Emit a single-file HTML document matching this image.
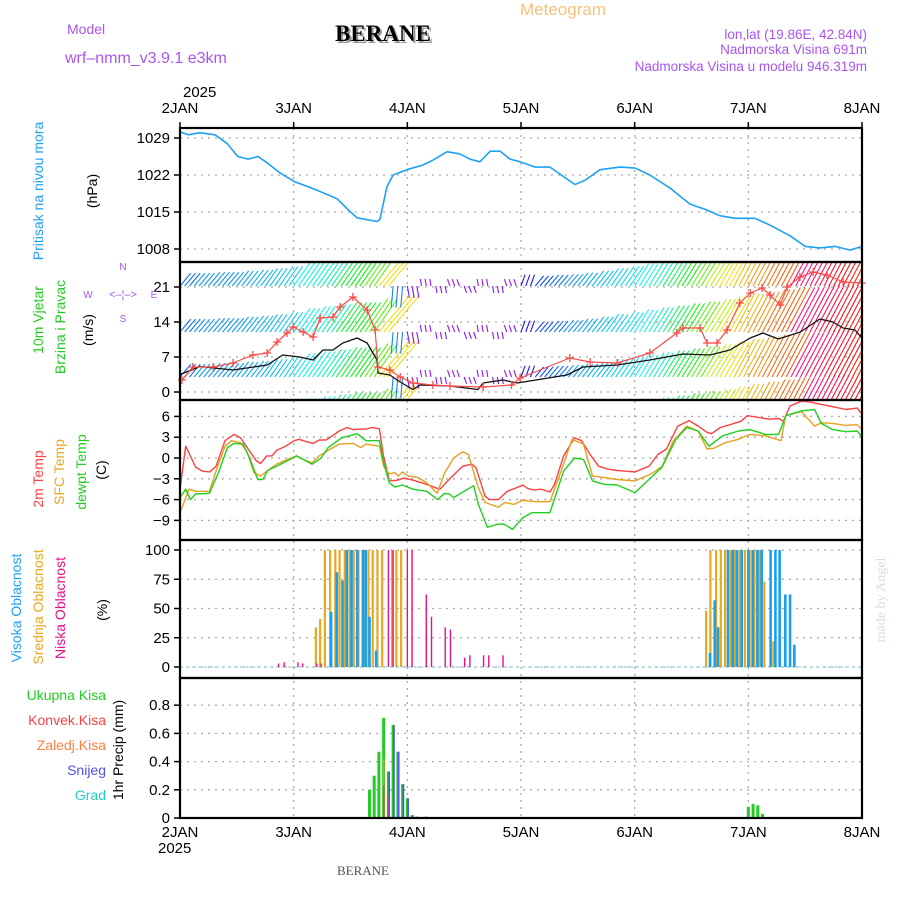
<!DOCTYPE html>
<html><head><meta charset="utf-8"><style>
html,body{margin:0;padding:0;background:#fff;}
svg{display:block;font-family:"Liberation Sans",sans-serif;}
</style></head><body>
<svg id="chart" width="900" height="900" viewBox="0 0 900 900" xmlns="http://www.w3.org/2000/svg">
<defs>
<clipPath id="cp2"><rect x="180" y="262" width="682" height="138"/></clipPath>
</defs>
<g>
<text x="520" y="15" font-size="17" fill="#f5c27a">Meteogram</text>
<text x="67" y="34" font-size="14" fill="#aa55ee">Model</text>
<text x="65" y="63" font-size="16" fill="#aa55ee">wrf–nmm_v3.9.1 e3km</text>
<text x="385" y="43" font-size="23" font-weight="bold" font-family="Liberation Serif,serif" text-anchor="middle" fill="#999">BERANE</text>
<text x="383" y="41" font-size="23" font-weight="bold" font-family="Liberation Serif,serif" text-anchor="middle" fill="#000">BERANE</text>
<text x="867" y="39" font-size="13.5" text-anchor="end" fill="#aa55ee">lon,lat (19.86E, 42.84N)</text>
<text x="867" y="54" font-size="13.5" text-anchor="end" fill="#aa55ee">Nadmorska Visina 691m</text>
<text x="867" y="71" font-size="13.5" text-anchor="end" fill="#aa55ee">Nadmorska Visina u modelu 946.319m</text>
</g>
<g id="grid"></g>
<g id="marks"></g>
<g id="frames"></g>
<g id="labels"></g>
<g font-family="Liberation Sans,sans-serif" font-size="14">
<text x="183" y="97" font-size="15">2025</text>
<text x="158" y="853" font-size="15">2025</text>
<text x="363" y="875" font-size="13" font-family="Liberation Serif,serif" fill="#555" text-anchor="middle">BERANE</text>
<text transform="translate(43,191) rotate(-90)" text-anchor="middle" fill="#1ea0f5">Pritisak na nivou mora</text>
<text transform="translate(97,191) rotate(-90)" text-anchor="middle" fill="#000">(hPa)</text>
<text transform="translate(43,320) rotate(-90)" text-anchor="middle" fill="#22cc22">10m Vjetar</text>
<text transform="translate(65,327) rotate(-90)" text-anchor="middle" fill="#22cc22">Brzina i Pravac</text>
<text transform="translate(93,330) rotate(-90)" text-anchor="middle" fill="#000">(m/s)</text>
<g fill="#aa55ee" font-size="10" text-anchor="middle">
<text x="123" y="270">N</text><text x="123" y="322">S</text><text x="88" y="298">W</text><text x="154" y="298">E</text>
<text x="123" y="298" font-size="11">&lt;–¦–&gt;</text>
</g>
<text transform="translate(43,479) rotate(-90)" text-anchor="middle" fill="#ff4040">2m Temp</text>
<text transform="translate(64,472) rotate(-90)" text-anchor="middle" fill="#e8a820">SFC Temp</text>
<text transform="translate(86,472) rotate(-90)" text-anchor="middle" fill="#22cc22">dewpt Temp</text>
<text transform="translate(106,470) rotate(-90)" text-anchor="middle" fill="#000">(C)</text>
<text transform="translate(21,608) rotate(-90)" text-anchor="middle" fill="#1ea0f5">Visoka Oblacnost</text>
<text transform="translate(43,607) rotate(-90)" text-anchor="middle" fill="#e8a820">Srednja Oblacnost</text>
<text transform="translate(65,608) rotate(-90)" text-anchor="middle" fill="#e8108a">Niska Oblacnost</text>
<text transform="translate(107,610) rotate(-90)" text-anchor="middle" fill="#000">(%)</text>
<g text-anchor="end">
<text x="106" y="700" fill="#22cc22">Ukupna Kisa</text>
<text x="106" y="725" fill="#ff4040">Konvek.Kisa</text>
<text x="106" y="750" fill="#ff8040">Zaledj.Kisa</text>
<text x="106" y="775" fill="#5050f0">Snijeg</text>
<text x="106" y="800" fill="#22cccc">Grad</text>
</g>
<text transform="translate(123,750) rotate(-90)" text-anchor="middle" fill="#000">1hr Precip (mm)</text>
<text transform="translate(885,600) rotate(-90)" text-anchor="middle" fill="#d8e0d8" font-size="14" font-family="Liberation Serif,serif">made by Angel</text>
</g>
</svg>
<script>
// ---- data ----
const dayLabels = ["2JAN","3JAN","4JAN","5JAN","6JAN","7JAN","8JAN"];
const presTicks = [1029,1022,1015,1008];
const windTicks = [21,14,7,0];
const tempTicks = [6,3,0,-3,-6,-9];
const cloudTicks = [100,75,50,25,0];
const precipTicks = [0.8,0.6,0.4,0.2,0];

const presT = [0,1.7,4.2,7.4,9.9,12.2,14.4,16.5,18.4,21.1,24.3,27.9,30,33.2,35.9,37.4,41.6,42.2,43.7,45,47.9,51.3,53.4,56.4,59.1,61.2,63.3,65.5,67.6,69.7,71.8,75,78.1,81.3,83.4,85.5,88.7,92.9,96.1,99.2,103.5,107.7,110.9,114,117.2,121.4,124.6,128.8,132,135.1,138.3,141.5,144];
const presV = [1030.2,1029.6,1030,1029.6,1028,1025.5,1025,1025.5,1024.3,1022.4,1020.7,1019.5,1018.7,1017.5,1015.1,1013.9,1013.2,1013.6,1019.8,1022,1023,1023.9,1024.8,1026.4,1026,1025,1024.5,1026.5,1026.5,1025,1024.5,1023.5,1023.5,1021.5,1020.2,1021,1023,1023.5,1023.3,1022,1019.5,1016.5,1015.5,1014.3,1013.8,1013.8,1012.5,1010.5,1008.5,1008.2,1008.5,1007.8,1008.5];

const windT = [0,3,6,9,12,15,18,21,24,27,30,33,36,39,42,45,48,51,54,57,60,63,66,69,72,75,78,81,84,87,90,93,96,99,102,105,108,111,114,117,120,123,126,129,132,135,138,141];
const windDir = [50,50,50,50,52,52,55,55,55,55,55,55,55,55,50,-95,-80,100,-80,110,-70,100,-80,110,70,50,50,50,52,52,55,55,58,58,58,58,58,58,60,62,62,62,62,62,62,62,62,62];
const windSpd = [7,7,7.5,7.5,8,8.5,9,10,12,13,14,15,15,17,20,9,5,3,3,3,3,3,3,3,5,5.5,6,6.5,7,8,9,10,11,12,13,14,15,16,17,18,19,20,21,21,22,22,22,22];
const windHue = [215,205,205,205,200,198,195,190,180,175,160,130,120,100,55,210,270,275,270,275,270,275,270,275,245,225,215,205,200,195,190,185,180,165,140,120,100,75,55,45,35,25,20,330,340,350,0,5];
const spdT = [0,4.2,11.2,18.4,21.7,25.3,28.1,30.2,32.3,34.4,37.4,39.5,41.6,41.8,44.3,46.5,49.2,50.7,57,62.9,64,68.2,71.2,81.7,85.1,92.3,99.2,106.2,111.9,116.1,120.4,123.1,126.3,131,135.1,137.9,140,142.5,144];
const spdV = [3.5,5.1,4.4,5.4,7.4,7,6.4,8.4,8.4,9.8,10.8,9.8,6.4,3.8,3.4,2,0.5,1.4,1.2,0.5,1.8,2.4,1.8,3.4,5,5.4,6.4,7.6,7.4,8.4,10.8,11.8,10.6,12,14.6,14,12.8,12.4,10.8];
const gustT = [0.4,2.7,7,11.2,15.4,18.4,20.5,22.6,23.9,26,28.1,29.6,32.3,33.8,36.5,39.5,41.2,41.8,44.3,46.5,49.2,53.4,57,64,70,71.8,82.3,86.6,92.3,99.2,104.9,106.2,109.8,111.3,113.4,115.5,118.2,120.4,122.9,124.6,126.7,128.2,130.9,133.7,136.6,140,144];
const gustV = [2.4,5,5,5.8,7.4,7.8,10,11.8,13,12,11,14.8,15,17,19,16.4,12.4,5,4.4,3,1.8,1.4,1.2,1,1.4,2.8,6.8,6,5.8,7.8,11.8,12.8,12.8,9.8,9.8,12.4,17.8,19.8,20.8,19.4,17.4,21,23,24,23.4,22,21.8];

const tempT = [0,1.2,3.3,4.7,6.3,7.6,9.5,11.4,12.8,14.7,16.1,17,18.3,19.4,20.4,22.3,24.1,25.1,26.5,28.1,29.4,30.8,32.2,33.6,35.3,36.5,39.3,40.7,42.1,42.9,44.2,45.9,47.3,49.2,51.6,54,54.9,56.8,59.7,61.6,62.5,64.4,65.3,67.2,69.1,71,72.4,73.4,74.8,76.2,78.1,79.1,81,83.3,84.8,86.6,88.4,90.4,92.3,94.2,96.1,99,100.9,102.7,105.1,107.5,109.4,111.3,112.2,114.1,117,118.4,119.8,121.7,124.5,126.4,127.4,128.8,131.2,133,134.9,137.8,140.6,143,144];
const temp2m = [-4.5,1.7,-1.3,-1.9,-2,-1.2,2.5,3.4,2.9,1,-0.4,-0.8,0.3,0.3,1.1,1.7,2.5,2.7,2.4,2.1,2.6,2.6,3.2,3.9,4.4,4.1,4.2,4.4,4.2,0.5,-3.3,-3.2,-2.9,-3.2,-3.7,-4.3,-4.5,-3.1,-1.2,-0.9,-1.4,-5.5,-6,-6,-4.8,-4.3,-3.9,-4.4,-4.6,-4.5,-4.9,-3.8,0.3,2.9,2.5,0.5,-1.2,-1.6,-1.8,-1.9,-2,-1.2,0.5,1.3,4.6,5.4,4.6,3.7,3.5,4.4,5,5.3,6.1,5.9,5.6,5.7,5.3,7.5,8.2,8.1,7.8,7.4,7,7.2,6.3];
const sfcT = [0,1.9,3.3,6.2,7.6,9.5,10.9,12.8,14.2,15.6,17,18.5,20.4,22.7,24.6,26,27.9,29.4,31.3,33.6,36.5,38.2,39.3,42.1,43,44.2,45.4,46.1,47,48.2,50.2,52.1,54.3,55.9,57.8,59.7,60.9,63,64.4,67.2,68.6,70.5,72.4,75.3,78.1,80,82.8,85.2,87.1,89.5,92.3,96.1,99.5,101.8,104.2,107,109.4,111.3,112.7,115.1,117.9,120.3,123.6,126.9,127.9,131.2,134,135.4,137.8,140.6,143,144];
const sfcV = [-7.9,-4.5,-4.8,-4.8,-1.9,1.7,2.5,2.2,0.8,-2.1,-2.6,-1.8,-0.9,-0.2,0.3,-0.2,-0.7,0.3,1.1,2,2.1,1.5,2,1.7,-1.2,-2.3,-2.1,-2.6,-2,-2.6,-2.8,-3.6,-5.1,-2.1,0,0.9,0.5,-4.3,-6.4,-7.1,-6.4,-6.7,-6.1,-6.3,-6.3,-2.8,2.7,2,-2.6,-2.8,-3.1,-3.3,-2.3,-1.2,2.5,4.6,3.9,1.3,1.4,2.2,2.7,3.4,3.2,2.5,6.1,6.7,4.6,5.1,5,4.7,4.8,4.1];
const dewT = [0,1.2,2.2,3.3,6.2,8.1,10,11.4,13.3,14.7,16.4,17.5,18.5,20.4,22.7,24.6,26,27.9,29.8,31.3,34.1,37.4,39.3,42.1,43,44.2,45.4,46.9,49.2,52.1,54.4,55.9,56.8,57.8,62,63,64.9,66.8,68.3,70.2,72.4,74.3,78.1,81,83.3,85.2,87.1,89.5,92.3,96.1,99.5,101.8,104.7,107,109.4,111.7,114.6,117.9,120.3,123.6,126.4,127.9,131.2,134,135.4,137.8,140.6,143,144];
const dewV = [-5.7,-4.5,-6,-5.2,-5.1,-2.1,1.5,2.1,2,0,-3.1,-3.1,-1.8,-1.2,-0.4,0.3,-0.2,-0.9,0,1.5,2.9,3.5,2.5,2.5,-0.7,-3.6,-4.2,-3.9,-4.5,-4.8,-6,-5.1,-5.2,-5.7,-4,-6.7,-10,-9.6,-9.5,-10.3,-8.6,-7.9,-7.9,-1.9,0,-0.2,-3.3,-3.8,-3.9,-5,-2.8,-1.3,2.7,4.4,3.9,1.7,3.2,3.9,4.1,3.4,3.4,6.1,6.8,7,5,4.1,3.8,3.9,3];

const midT = [28.9,29.8,30.8,31.9,33,33.9,35,36,36.9,37.9,39,40,40.9,41.9,42.9,45,45.9,46.9,111.3,112.2,113.4,114.4,115.3,116.5,117.4,118.4,119.5,120.5,121.5,122.6,123.6,125.5];
const midV = [34,41,100,100,100,100,100,100,100,100,100,100,100,100,100,100,100,100,48,100,100,100,100,100,100,100,100,100,100,100,73,22];
const highT = [31.7,32.9,34.1,35,36,37.2,38.4,39,39.8,41.2,111.7,112.7,113.4,115.5,116.5,117.4,118.4,119.8,120.7,121.7,122.6,124.5,125.5,126.4,127.6,128.6,129.5];
const highV = [47,81,74,100,100,100,100,100,43,14,12,57,34,100,100,100,100,100,100,100,100,100,100,100,62,62,19];
const lowT = [20.8,22,24.9,25.9,28.9,29.8,44,45,48,49,52,53.1,56,57.1,60.1,61.2,64.1,65.2,68.2];
const lowV = [3,4,4,3,3,3,100,100,100,100,62,43,34,32,8,10,10,10,10];

const precT = [40,41,42,43,44,45,46,47,48,49,50,52,120,121,122,123];
const precTotal = [0.2,0.3,0.47,0.71,0.33,0.66,0.47,0.24,0.14,0.02,0.01,0.01,0.08,0.1,0.09,0.03];
const precConvT = [43,44];
const precConv = [0.23,0.15];
const precFrzT = [43];
const precFrz = [0.42];
const snowT = [44,45,46,47,48,49];
const snowV = [0.33,0.66,0.47,0.24,0.14,0.02];

// ---- scales ----
const X = t => 180 + t*682/144;
const P = v => 138 + (1029-v)*37/7;
const W = v => 392 - v*5;
const T = v => 458 - v*6.93;
const C = v => 667 - v*1.17;
const R = v => 818 - v*141;
const NS = "http://www.w3.org/2000/svg";
function mk(parent, tag, attrs, text){
  const e = document.createElementNS(NS, tag);
  for (const k in attrs) e.setAttribute(k, attrs[k]);
  if (text !== undefined) e.textContent = text;
  parent.appendChild(e); return e;
}
const grid = document.getElementById('grid');
const marks = document.getElementById('marks');
const frames = document.getElementById('frames');
const labels = document.getElementById('labels');
const panels = [[128,262],[262,400],[400,540],[540,678],[678,818]];
const dot = {"stroke":"#aaa","stroke-width":1.3,"stroke-dasharray":"2,5"};

for (let d=1; d<6; d++){
  const l = mk(grid,'line',Object.assign({x1:X(d*24),x2:X(d*24),y1:128,y2:818},dot));
  
  
}
function hgrid(ticks, sc, fmt){
  ticks.forEach(v=>{
    const y = sc(v);
    const l = mk(grid,'line',Object.assign({x1:180,x2:862,y1:y,y2:y},dot));
    
    
    const tk = mk(labels,'line',{"x1":174,"x2":180,"y1":y,"y2":y,"stroke":"#000","stroke-width":1.5});
    
    
    const tx = mk(labels,'text',{"x":170,"y":y+5,"font-size":15,"text-anchor":"end","fill":"#000"}, fmt(v));
    
    
  });
}
hgrid(presTicks,P,v=>String(v));
hgrid(windTicks,W,v=>String(v));
hgrid(tempTicks,T,v=>String(v).replace('-','−'));
hgrid(cloudTicks,C,v=>String(v));
hgrid(precipTicks,R,v=>v===0?"0":String(v));

function line(ts, vs, sc, color, name, w, clip){
  const pts = ts.map((t,i)=>X(t).toFixed(1)+","+sc(vs[i]).toFixed(1)).join(" ");
  const p = mk(marks,'polyline',{"points":pts,"fill":"none","stroke":color,"stroke-width":w||1.5,"stroke-linejoin":"round"});
  if (clip) p.setAttribute('clip-path',clip);
  
  
  return p;
}
line(presT,presV,P,"#1ea0f5","pressure-line",1.6);

const windG = mk(marks,'g',{"clip-path":"url(#cp2)"});


const rowBase = [286,332,377,422];
windT.forEach((t,i)=>{
  const a = windDir[i]*Math.PI/180, L = windSpd[i]*2.4;
  const col = "hsl("+windHue[i]+",90%,52%)";
  rowBase.forEach(b=>{
    for (let k=0;k<3;k++){
      const x0 = X(t+k), dx = Math.cos(a)*L, dy = -Math.sin(a)*L;
      const s = mk(windG,'line',{"x1":x0,"y1":b,"x2":x0+dx,"y2":b+dy,"stroke":col,"stroke-width":1.1});
      
      
    }
  });
});
line(spdT,spdV,W,"#111","wind-speed-line",1.3,"url(#cp2)");
line(gustT,gustV,W,"#ff4a4a","wind-gust-line",1.2,"url(#cp2)");
gustT.forEach((t,i)=>{
  const x=X(t), y=W(gustV[i]);
  const m = mk(marks,'path',{"d":`M${x-4},${y}H${x+4}M${x},${y-4}V${y+4}`,"stroke":"#ff4a4a","stroke-width":1.3});
  
  
});

line(tempT,temp2m,T,"#ff4040","temp-2m-line",1.4);
line(sfcT,sfcV,T,"#e8a020","temp-sfc-line",1.4);
line(dewT,dewV,T,"#20d020","dewpoint-line",1.4);

function bars(ts, vs, sc, color, name, w, off){
  ts.forEach((t,i)=>{
    const y = sc(vs[i]), y0 = sc(0);
    const r = mk(marks,'rect',{"x":X(t)+off-w/2,"y":y,"width":w,"height":Math.max(0,y0-y),"fill":color});
    
    
  });
}
const cb = mk(marks,'line',{"x1":180,"x2":862,"y1":667,"y2":667,"stroke":"#9cd","stroke-width":1.2,"stroke-dasharray":"3,3"});


bars(midT,midV,C,"#e8a820","mid-cloud-bar",2.2,-1);
bars(highT,highV,C,"#17a0f0","high-cloud-bar",2.6,1);
bars(lowT,lowV,C,"#e8108a","low-cloud-bar",1.4,0);

bars(precT,precTotal,R,"#22cc22","total-precip-bar",3,0);
bars(precFrzT,precFrz,R,"#ff8040","freezing-precip-bar",1.5,0);
bars(precConvT,precConv,R,"#ff4040","convective-precip-bar",1.5,0);
bars(snowT,snowV,R,"#5050f0","snow-bar",1.6,0.8);

panels.forEach(([a,b])=>{
  const r = mk(frames,'rect',{"x":180,"y":a,"width":682,"height":b-a,"fill":"none","stroke":"#000","stroke-width":2.2});
  
  
});
dayLabels.forEach((d,i)=>{
  const x = X(i*24);
  const t1 = mk(labels,'text',{"x":x,"y":113,"font-size":15,"text-anchor":"middle"},d);
  
  
  const t2 = mk(labels,'text',{"x":x,"y":837,"font-size":15,"text-anchor":"middle"},d);
  
  
  const k1 = mk(labels,'line',{"x1":x,"x2":x,"y1":122,"y2":128,"stroke":"#000","stroke-width":1.5});
  
  
});
</script>
</body></html>
